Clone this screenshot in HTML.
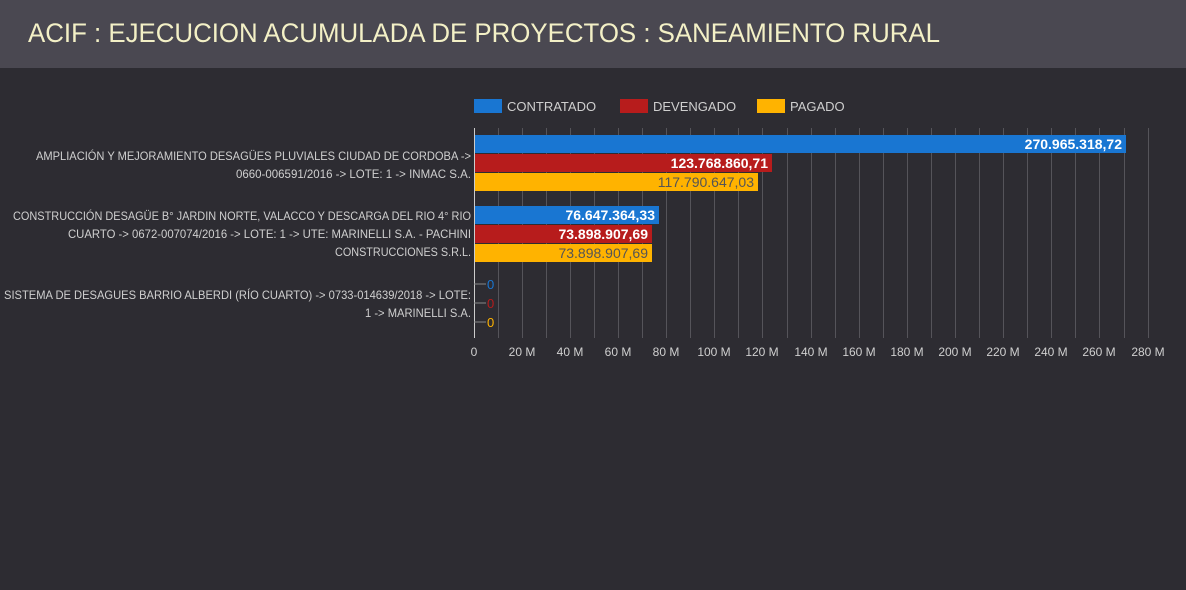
<!DOCTYPE html>
<html><head><meta charset="utf-8"><style>
body{margin:0;width:1186px;height:590px;background:#2d2c32;font-family:"Liberation Sans",sans-serif;overflow:hidden;position:relative}
.hdr{position:absolute;left:0;top:0;width:1186px;height:68px;background:#4a4851}
svg{position:absolute;left:0;top:0}
</style></head><body>
<div class="hdr"></div>
<svg width="1186" height="590" font-family="Liberation Sans, sans-serif">
<text x="28" y="42" font-size="27" fill="#f3f0c6" textLength="912" lengthAdjust="spacingAndGlyphs">ACIF : EJECUCION ACUMULADA DE PROYECTOS : SANEAMIENTO RURAL</text>
<g font-size="13" fill="#cfcfcf">
<rect x="474" y="99" width="28" height="14" fill="#1976d2"/><text x="507" y="111">CONTRATADO</text>
<rect x="620" y="99" width="28" height="14" fill="#b71c1c"/><text x="653" y="111">DEVENGADO</text>
<rect x="757" y="99" width="28" height="14" fill="#ffb300"/><text x="790" y="111">PAGADO</text>
</g>
<g stroke="#55545a" stroke-width="1">
<line x1="498.5" y1="128" x2="498.5" y2="338"/><line x1="522.5" y1="128" x2="522.5" y2="338"/><line x1="546.5" y1="128" x2="546.5" y2="338"/><line x1="570.5" y1="128" x2="570.5" y2="338"/><line x1="594.5" y1="128" x2="594.5" y2="338"/><line x1="618.5" y1="128" x2="618.5" y2="338"/><line x1="642.5" y1="128" x2="642.5" y2="338"/><line x1="666.5" y1="128" x2="666.5" y2="338"/><line x1="690.5" y1="128" x2="690.5" y2="338"/><line x1="714.5" y1="128" x2="714.5" y2="338"/><line x1="738.5" y1="128" x2="738.5" y2="338"/><line x1="762.5" y1="128" x2="762.5" y2="338"/><line x1="787.5" y1="128" x2="787.5" y2="338"/><line x1="811.5" y1="128" x2="811.5" y2="338"/><line x1="835.5" y1="128" x2="835.5" y2="338"/><line x1="859.5" y1="128" x2="859.5" y2="338"/><line x1="883.5" y1="128" x2="883.5" y2="338"/><line x1="907.5" y1="128" x2="907.5" y2="338"/><line x1="931.5" y1="128" x2="931.5" y2="338"/><line x1="955.5" y1="128" x2="955.5" y2="338"/><line x1="979.5" y1="128" x2="979.5" y2="338"/><line x1="1003.5" y1="128" x2="1003.5" y2="338"/><line x1="1027.5" y1="128" x2="1027.5" y2="338"/><line x1="1051.5" y1="128" x2="1051.5" y2="338"/><line x1="1075.5" y1="128" x2="1075.5" y2="338"/><line x1="1099.5" y1="128" x2="1099.5" y2="338"/><line x1="1124.5" y1="128" x2="1124.5" y2="338"/><line x1="1148.5" y1="128" x2="1148.5" y2="338"/>
</g>
<line x1="474.5" y1="128" x2="474.5" y2="338" stroke="#cccccc"/>
<rect x="475" y="135" width="651" height="18" fill="#1976d2"/>
<rect x="475" y="154" width="297" height="18" fill="#b71c1c"/>
<rect x="475" y="173" width="283" height="18" fill="#ffb300"/>
<rect x="475" y="206" width="184" height="18" fill="#1976d2"/>
<rect x="475" y="225" width="177" height="18" fill="#b71c1c"/>
<rect x="475" y="244" width="177" height="18" fill="#ffb300"/>
<g font-size="14" text-anchor="end">
<text x="1122" y="149" fill="#fff" font-weight="bold">270.965.318,72</text>
<text x="768" y="168" fill="#fff" font-weight="bold">123.768.860,71</text>
<text x="754" y="187" fill="#555">117.790.647,03</text>
<text x="655" y="220" fill="#fff" font-weight="bold">76.647.364,33</text>
<text x="648" y="239" fill="#fff" font-weight="bold">73.898.907,69</text>
<text x="648" y="258" fill="#555">73.898.907,69</text>
</g>
<g stroke="#888"><line x1="474" y1="284" x2="486" y2="284"/><line x1="474" y1="303" x2="486" y2="303"/><line x1="474" y1="322" x2="486" y2="322"/></g>
<g font-size="13"><text x="487" y="289" fill="#1976d2">0</text><text x="487" y="308" fill="#b71c1c">0</text><text x="487" y="327" fill="#ffb300">0</text></g>
<g font-size="12" fill="#cfcfcf" lengthAdjust="spacingAndGlyphs">
<text x="36" y="160" textLength="435" lengthAdjust="spacingAndGlyphs">AMPLIACIÓN Y MEJORAMIENTO DESAGÜES PLUVIALES CIUDAD DE CORDOBA -&gt;</text>
<text x="236" y="178" textLength="235" lengthAdjust="spacingAndGlyphs">0660-006591/2016 -&gt; LOTE: 1 -&gt; INMAC S.A.</text>
<text x="13" y="220" textLength="458" lengthAdjust="spacingAndGlyphs">CONSTRUCCIÓN DESAGÜE B° JARDIN NORTE, VALACCO Y DESCARGA DEL RIO 4° RIO</text>
<text x="68" y="238" textLength="403" lengthAdjust="spacingAndGlyphs">CUARTO -&gt; 0672-007074/2016 -&gt; LOTE: 1 -&gt; UTE: MARINELLI S.A. - PACHINI</text>
<text x="335" y="256" textLength="136" lengthAdjust="spacingAndGlyphs">CONSTRUCCIONES S.R.L.</text>
<text x="4" y="299" textLength="467" lengthAdjust="spacingAndGlyphs">SISTEMA DE DESAGUES BARRIO ALBERDI (RÍO CUARTO) -&gt; 0733-014639/2018 -&gt; LOTE:</text>
<text x="365" y="317" textLength="106" lengthAdjust="spacingAndGlyphs">1 -&gt; MARINELLI S.A.</text>
</g>
<g font-size="12" fill="#cfcfcf" text-anchor="middle">
<text x="474" y="356">0</text><text x="522" y="356">20 M</text><text x="570" y="356">40 M</text><text x="618" y="356">60 M</text><text x="666" y="356">80 M</text><text x="714" y="356">100 M</text><text x="762" y="356">120 M</text><text x="811" y="356">140 M</text><text x="859" y="356">160 M</text><text x="907" y="356">180 M</text><text x="955" y="356">200 M</text><text x="1003" y="356">220 M</text><text x="1051" y="356">240 M</text><text x="1099" y="356">260 M</text><text x="1148" y="356">280 M</text>
</g>
</svg>
</body></html>
